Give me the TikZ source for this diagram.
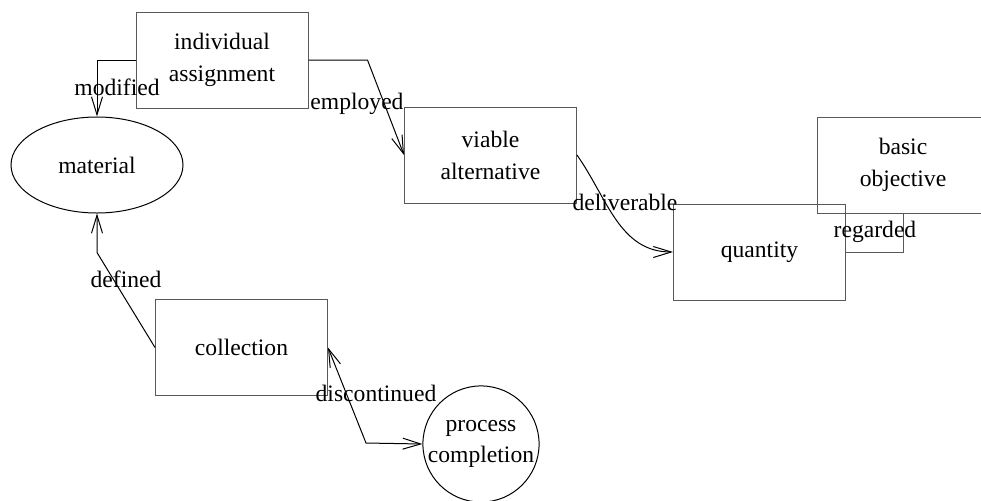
\documentclass[tikz,border=0pt]{standalone}
\usepackage{fontspec}
\setmainfont{Liberation Serif}
\usepackage{tikz}
\usetikzlibrary{arrows.meta,shapes.geometric}

\begin{document}
\begin{tikzpicture}[x=0.5pt,y=-0.5pt]
	 \tikzstyle{box}=[rectangle,draw=black!65,line width=0.5pt,inner sep=0pt,minimum width=86pt,minimum height=48pt,align=center,font=\fontsize{11.8}{16}\selectfont]
	 \tikzstyle{oval}=[ellipse,draw,line width=0.5pt,inner sep=0pt,minimum width=86pt,minimum height=48pt,align=center,font=\fontsize{11.8}{16}\selectfont]
	 \tikzstyle{round}=[circle,draw,line width=0.5pt,inner sep=0pt,minimum size=58pt,align=center,font=\fontsize{11.8}{15.5}\selectfont]
	 \tikzstyle{tag}=[inner sep=0pt,font=\fontsize{11.8}{16}\selectfont]
	 \tikzstyle{edge} = [draw,line width=0.5pt,black,-{Straight Barb[length=9pt,width=5.5pt]}]
	 \useasboundingbox (0,0) rectangle (981,500);
	 \node[box] (assign) at (222,60) {individual\\assignment};
	 \node[oval] (material) at (97,165) {material};
	 \node[box] (viable) at (490.5,155) {viable\\alternative};
	 \node[box] (quantity) at (759.5,252) {quantity};
	 \node[box] (basic) at (903,165) {basic\\objective};
	 \node[box] (collection) at (241.5,347.5) {collection};
	 \node[round] (process) at (481,444) {process\\completion};
	 \draw[edge] (assign.west) -| (material.north);
	 \draw[edge] (assign.east) -- ++(59,0) -- (viable.west);
	 \draw[edge] (viable.east) to[out=-55,in=180] (quantity.west);
	 \draw[line width=0.5pt,black!65] (quantity.east) -| (basic.south);
	 \draw[edge] (collection.west) -- ++(-58,-95) -- (material.south);
	 \draw[edge,{Straight Barb[length=9pt,width=5.5pt]}-{Straight Barb[length=9pt,width=5.5pt]}] (collection.east) -- (366,443) -- (process.west);
	 \node[tag] (l1) at (117,87) {modified};
	 \node[tag] (l2) at (357,104) {employed};
	 \node[tag] (l3) at (625,202) {deliverable};
	 \node[tag] (l4) at (875,232) {regarded};
	 \node[tag] (l5) at (126,279) {defined};
	 \node[tag] (l6) at (376,393) {discontinued};
 \end{tikzpicture}
\end{document}
